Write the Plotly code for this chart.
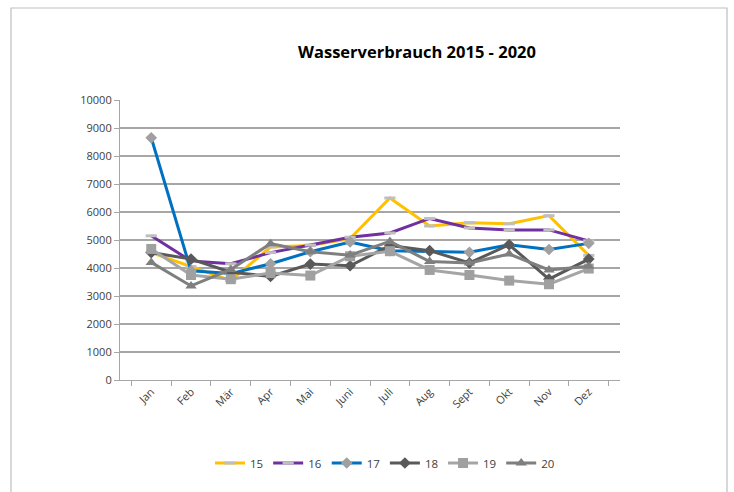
import plotly.graph_objects as go

months = ["Jan", "Feb", "Mär", "Apr", "Mai", "Juni", "Juli", "Aug", "Sept", "Okt", "Nov", "Dez"]
y15 = [4550, 4050, 3550, 4750, 4800, 5050, 6500, 5500, 5620, 5580, 5870, 4450]
y16 = [5150, 4250, 4150, 4550, 4820, 5100, 5250, 5770, 5430, 5360, 5360, 4970]
y17 = [8650, 3900, 3800, 4150, 4580, 4930, 4620, 4600, 4560, 4830, 4660, 4880]
y18 = [4550, 4320, 3850, 3700, 4140, 4080, 4800, 4620, 4180, 4830, 3600, 4320]
y19 = [4680, 3750, 3600, 3820, 3730, 4420, 4600, 3930, 3750, 3550, 3420, 3980]
y20 = [4200, 3360, 3950, 4870, 4580, 4460, 4950, 4230, 4180, 4500, 3930, 4060]

series = [
    ("15", y15, "#FFC000", dict(symbol="line-ew", size=8, color="#BFBFBF", line=dict(color="#BFBFBF", width=3))),
    ("16", y16, "#7030A0", dict(symbol="line-ew", size=8, color="#BFBFBF", line=dict(color="#BFBFBF", width=3))),
    ("17", y17, "#0070C0", dict(symbol="diamond", size=9, color="#A0A0A0", line=dict(width=0))),
    ("18", y18, "#595959", dict(symbol="diamond", size=9, color="#595959", line=dict(width=0))),
    ("19", y19, "#A5A5A5", dict(symbol="square", size=10, color="#A0A0A0", line=dict(width=0))),
    ("20", y20, "#7F7F7F", dict(symbol="triangle-up", size=10, color="#7F7F7F", line=dict(width=0))),
]

fig = go.Figure()
for name, vals, col, mk in series:
    fig.add_trace(go.Scatter(x=months, y=vals, name=name, mode="lines+markers",
                             line=dict(color=col, width=3), marker=mk))

font = "Open Sans, Liberation Sans, sans-serif"
fig.update_layout(
    width=734, height=492,
    margin=dict(l=120, r=114, t=100, b=112, autoexpand=False),
    paper_bgcolor="white", plot_bgcolor="white",
    font=dict(family=font, size=11, color="#404040"),
    title=dict(text="<b>Wasserverbrauch 2015 - 2020</b>", x=417/734, xanchor="center",
               y=1 - 52/492, yanchor="middle", font=dict(size=16.5, color="#000000")),
    showlegend=True,
    legend=dict(orientation="h", x=385/734, xanchor="center", xref="container",
                y=1 - 463/492, yref="container", yanchor="middle",
                font=dict(size=11.5, color="#404040"), itemwidth=30, tracegroupgap=0),
    shapes=[dict(type="rect", xref="paper", yref="paper",
                 x0=(11 - 120) / 500, x1=(727 - 120) / 500,
                 y0=(380 - 520) / 280, y1=(380 - 8) / 280,
                 line=dict(color="#BFBFBF", width=1.2), fillcolor="rgba(0,0,0,0)", layer="below")],
)
fig.update_yaxes(range=[0, 10000], dtick=1000, tickformat="d", showgrid=True, gridcolor="#A6A6A6", gridwidth=1.5,
                 showline=True, linecolor="#A6A6A6", linewidth=1.2, ticks="outside", ticklen=5,
                 tickcolor="#A6A6A6", zeroline=False, tickfont=dict(size=11), automargin=False)
fig.update_xaxes(showgrid=False, showline=True, linecolor="#A6A6A6", linewidth=1.2,
                 ticks="outside", ticklen=5, tickcolor="#A6A6A6", tickson="boundaries",
                 tickangle=-45, tickfont=dict(size=11), automargin=False)

fig.write_html("out.html", config={"displayModeBar": False},
               post_script="document.body.style.margin='0px';")
